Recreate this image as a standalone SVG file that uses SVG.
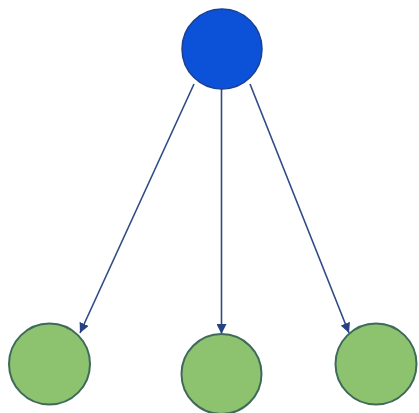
<svg xmlns="http://www.w3.org/2000/svg" width="419" height="413" viewBox="0 0 419 413">
<defs>
<marker id="ah" viewBox="0 0 10 10" refX="10" refY="5" markerWidth="10" markerHeight="10" markerUnits="userSpaceOnUse" orient="auto">
<path d="M0,0 L10,5 L0,10 z" fill="#26427f"/>
</marker>
<style>
.root{fill:#0b52d8;stroke:#1a3f93;stroke-width:1.5}
.leaf{fill:#8dc26e;stroke:#3f6a5a;stroke-width:2}
.edge{stroke:#2f4a86;stroke-width:1.6;fill:none;marker-end:url(#ah)}
</style>
</defs>
<rect width="419" height="413" fill="#ffffff"/>
<g id="connectors">
<line class="edge" x1="194" y1="84" x2="80" y2="333"/>
<line class="edge" x1="221.5" y1="89" x2="221.5" y2="334"/>
<line class="edge" x1="250" y1="84" x2="349" y2="333"/>
</g>
<g id="root"><circle class="root" cx="222" cy="49" r="40"/></g>
<g id="leaf1"><circle class="leaf" cx="49.5" cy="364" r="40.5"/></g>
<g id="leaf2"><circle class="leaf" cx="221.5" cy="374" r="40"/></g>
<g id="leaf3"><circle class="leaf" cx="376" cy="364" r="40.5"/></g>
</svg>
